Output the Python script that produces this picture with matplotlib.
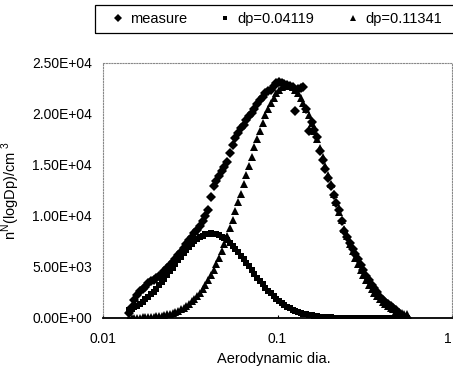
import matplotlib
matplotlib.use('Agg')
import matplotlib.pyplot as plt
from matplotlib.patches import Rectangle
from matplotlib.ticker import FixedLocator, FuncFormatter

plt.rcParams['font.family'] = ['Liberation Sans', 'DejaVu Sans']

# particle diameters (um), 64 channels per decade
diam = [0.01409, 0.01461, 0.01514, 0.01570, 0.01628, 0.01687, 0.01749, 0.01813, 0.01879, 0.01948,
        0.02020, 0.02094, 0.02170, 0.02250, 0.02332, 0.02418, 0.02506, 0.02598, 0.02693, 0.02792,
        0.02894, 0.03000, 0.03110, 0.03224, 0.03342, 0.03464, 0.03591, 0.03723, 0.03859, 0.04001,
        0.04147, 0.04299, 0.04457, 0.04620, 0.04789, 0.04965, 0.05146, 0.05335, 0.05530, 0.05733,
        0.05943, 0.06161, 0.06387, 0.06621, 0.06863, 0.07115, 0.07376, 0.07646, 0.07925, 0.08215,
        0.08517, 0.08829, 0.09151, 0.09486, 0.09835, 0.1019, 0.1057, 0.1096, 0.1136, 0.1177,
        0.1220, 0.1265, 0.1311, 0.1359, 0.1409, 0.1461, 0.1514, 0.1570, 0.1628, 0.1687,
        0.1749, 0.1813, 0.1879, 0.1948, 0.2020, 0.2094, 0.2170, 0.2250, 0.2332, 0.2418,
        0.2506, 0.2598, 0.2693, 0.2792, 0.2894, 0.3000, 0.3110, 0.3224, 0.3342, 0.3464,
        0.3591, 0.3723, 0.3859, 0.4001, 0.4147, 0.4299, 0.4457, 0.4620, 0.4789, 0.4965,
        0.5146, 0.5335, 0.5530]

measure = [500, 1100, 1800, 2250, 2600, 2850, 3000, 3430, 3600, 3750,
           3950, 4100, 4350, 4650, 4900, 5200, 5500, 5800, 6150, 6500,
           6850, 7300, 7600, 7900, 8300, 8630, 9050, 9550, 10000, 10600,
           11900, 12900, 13400, 13900, 14400, 14800, 15300, 16200, 16950, 17600,
           18100, 18600, 18900, 19400, 19800, 20100, 20500, 20950, 21400, 21700,
           22050, 22300, 22400, 22700, 23000, 23100, 23000, 22900, 22850, 22750,
           22650, 20300, 22450, 22550, 22650, 20500, 18300, 19200, 18400, 17700,
           16400, 15500, 14600, 13700, 12900, 12100, 11300, 10600, 9500, 8500,
           7900, 7350, 6800, 6300, 5750, 5200, 4700, 4150, 3700, 3250,
           2900, 2500, 2060, 1800, 1600, 1350, 1150, 950, 750, 500,
           200, 80, 30]

mode1 = [784, 911, 1058, 1217, 1400, 1601, 1830, 2061, 2322, 2590,
         2888, 3188, 3519, 3855, 4223, 4566, 4937, 5283, 5653, 5988,
         6342, 6658, 6990, 7254, 7527, 7728, 7935, 8066, 8199, 8270,
         8300, 8280, 8226, 8120, 7988, 7800, 7600, 7327, 7064, 6750,
         6450, 6099, 5767, 5398, 5053, 4669, 4314, 3956, 3627, 3291,
         2986, 2682, 2409, 2133, 1889, 1662, 1463, 1274, 1109, 956,
         824, 699, 593, 501, 423, 353, 295, 244, 202, 165,
         134, 109, 88, 70, 56, 44, 35, 28, 22, 17,
         13, 10, 8, 6, 5, 4, 3, 2, 2, 1,
         1, 1, 1, 0, 0, 0, 0, 0, 0, 0,
         0, 0, 0]

mode2 = [16, 20, 26, 33, 42, 53, 67, 83, 103, 127,
         157, 192, 235, 287, 350, 421, 506, 603, 718, 849,
         1005, 1183, 1393, 1619, 1881, 2167, 2497, 2851, 3254, 3700,
         4207, 4723, 5301, 5902, 6571, 7252, 8003, 8783, 9638, 10451,
         11332, 12189, 13110, 13981, 14911, 15797, 16735, 17537, 18377, 19104,
         19859, 20465, 21090, 21593, 22038, 22357, 22606, 22752, 22800, 22752,
         22606, 22357, 22013, 21593, 21090, 20465, 19859, 19104, 18377, 17506,
         16676, 15769, 14911, 13981, 13110, 12189, 11332, 10417, 9576, 8754,
         8003, 7252, 6571, 5902, 5301, 4703, 4173, 3685, 3254, 2851,
         2497, 2167, 1881, 1611, 1379, 1177, 1005, 849, 718, 603,
         506, 418, 346]

labels = ['measure', 'dp=0.04119', 'dp=0.11341']
x_ticks = [0.01, 0.1, 1]
x_ticklabels = ['0.01', '0.1', '1']
y_ticks = [0, 5000, 10000, 15000, 20000, 25000]

fig = plt.figure(figsize=(4.53, 3.72), dpi=100)
ax = fig.add_axes([0.2274, 0.1452, 0.7704, 0.6855])

h1, = ax.plot(diam, measure, 'D', color='black', ms=4.6, mew=0, label=labels[0])
h2, = ax.plot(diam, mode1, 's', color='black', ms=4.2, mew=0, label=labels[1])
h3, = ax.plot(diam, mode2, '^', color='black', ms=5.2, mew=0, label=labels[2])

ax.set_xscale('log')
ax.set_xlim(0.01, 1)
ax.set_ylim(0, 25000)
ax.xaxis.set_major_locator(FixedLocator(x_ticks))
ax.xaxis.set_minor_locator(FixedLocator([]))
ax.set_xticklabels(x_ticklabels)
ax.get_xticklabels()[-1].set_ha('right')  # keep the "1" inside the picture
ax.yaxis.set_major_locator(FixedLocator(y_ticks))
ax.yaxis.set_major_formatter(FuncFormatter(lambda v, p: '%.2E' % v))

ax.tick_params(axis='x', direction='in', length=2.5, width=0.8, pad=10, labelsize=10)
ax.tick_params(axis='y', length=0, pad=8, labelsize=10)

# frame: solid bottom axis, the rest faint dotted
for side in ['left', 'top', 'right']:
    ax.spines[side].set_color('#888888')
    ax.spines[side].set_linestyle((0, (1, 1.5)))
    ax.spines[side].set_linewidth(0.8)
ax.spines['bottom'].set_linewidth(1.3)
ax.spines['bottom'].set_color('black')

ax.set_xlabel('Aerodynamic dia.', fontsize=10.5)
ax.xaxis.set_label_coords(0.49, -0.135)
ax.set_ylabel(r'n$^{\mathregular{N}}$(logDp)/cm$^{\mathregular{\ 3}}$', fontsize=10.5)
ax.yaxis.set_label_coords(-0.232, 0.5)

# legend across the top, box runs off the right edge
fig.legend(handles=[h1, h2, h3], labels=labels, loc='center left',
           bbox_to_anchor=(0.2444, 0.9489), ncol=3, frameon=False,
           borderpad=0, borderaxespad=0, handlelength=1.0, handletextpad=0.35,
           columnspacing=2.1, fontsize=10.5, numpoints=1, markerscale=0.85)
fig.add_artist(Rectangle((95 / 453, 1 - 33 / 372), 380 / 453, 28 / 372,
                         transform=fig.transFigure, fill=False,
                         edgecolor='black', linewidth=0.9))

fig.savefig('out.png', dpi=100)
